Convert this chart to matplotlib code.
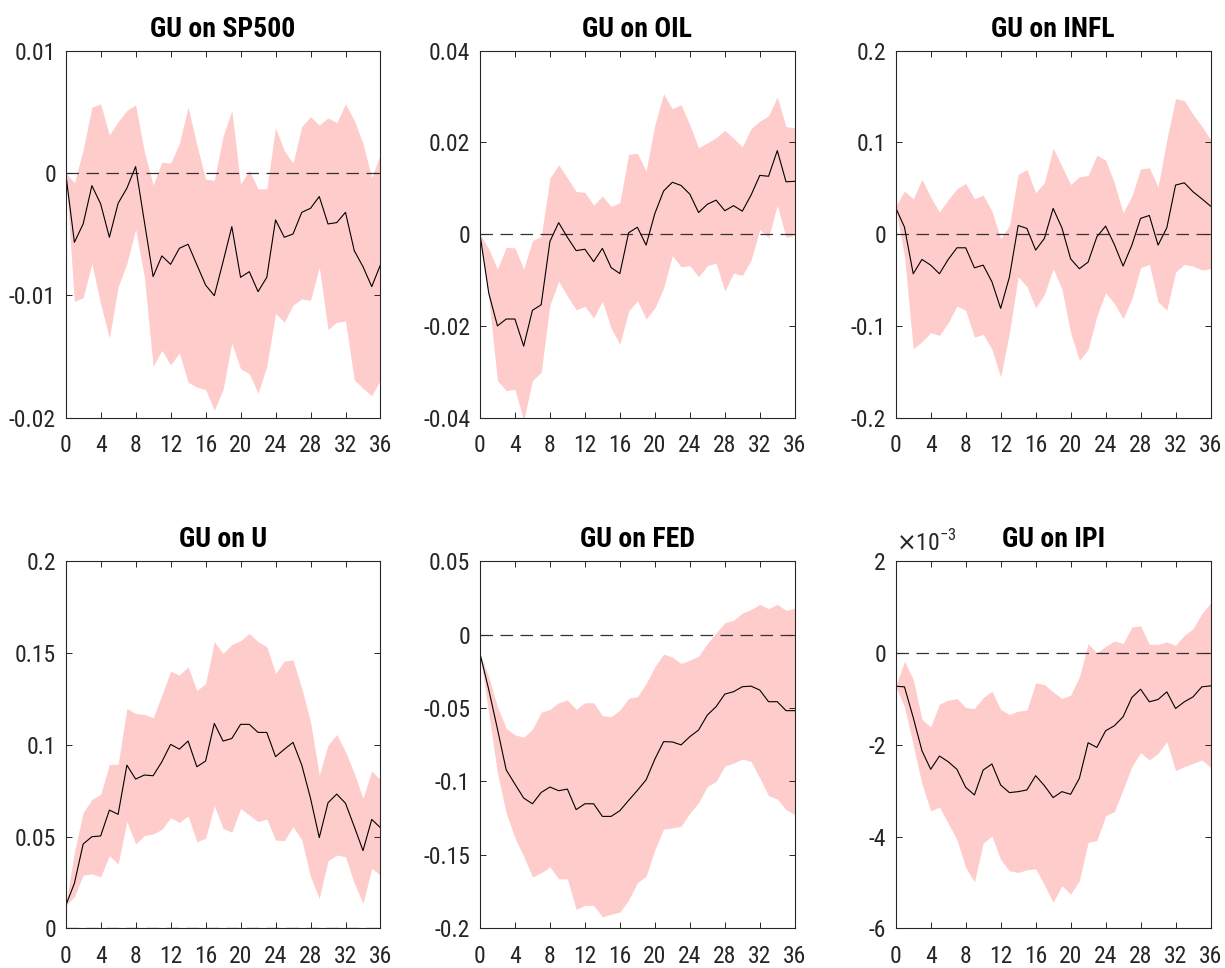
import numpy as np
import matplotlib
matplotlib.use("Agg")
import matplotlib.pyplot as plt
from matplotlib import font_manager

# horizon (months)
horizon = np.arange(37)
xticks = np.arange(0, 37, 4)

titles = ["GU on SP500", "GU on OIL", "GU on INFL", "GU on U", "GU on FED", "GU on IPI"]

# ---- SP500 ----
sp500_med = [0, -0.00567, -0.00417, -0.00104, -0.00253, -0.00526, -0.00248, -0.00125, 0.00052,
             -0.00398, -0.00847, -0.00678, -0.00747, -0.00616, -0.00583, -0.0075, -0.00916,
             -0.01003, -0.00725, -0.00439, -0.00853, -0.00807, -0.0097, -0.00853, -0.00384,
             -0.00526, -0.00499, -0.00322, -0.00289, -0.00193, -0.00417, -0.00406, -0.00322,
             -0.00635, -0.00766, -0.00929, -0.0075]
sp500_hi = [0, -0.0008, 0.0019, 0.00537, 0.00564, 0.0031, 0.0042, 0.0051, 0.00556, 0.00174,
            -0.001, 0.00087, 0.0008, 0.0024, 0.00537, 0.0023, -0.0005, -0.0006, 0.003, 0.0051,
            -0.0009, 0.0002, -0.0013, -0.0013, 0.0037, 0.0018, 0.0008, 0.0038, 0.0046, 0.0039,
            0.0045, 0.0041, 0.00564, 0.0043, 0.0024, -0.0004, 0.0016]
sp500_lo = [0, -0.0105, -0.0102, -0.0074, -0.0107, -0.0135, -0.0093, -0.0074, -0.0046, -0.0085,
            -0.0158, -0.0145, -0.0157, -0.0147, -0.0171, -0.0175, -0.0177, -0.0194, -0.0177,
            -0.0139, -0.016, -0.0164, -0.018, -0.0158, -0.0115, -0.0122, -0.0108, -0.0103,
            -0.0104, -0.0077, -0.0128, -0.0122, -0.0121, -0.0169, -0.0176, -0.0182, -0.0169]

# ---- OIL ----
oil_med = [0, -0.0128, -0.02, -0.0185, -0.0185, -0.0244, -0.0166, -0.0154, -0.0016, 0.0025,
           -0.0007, -0.0036, -0.0033, -0.006, -0.0031, -0.0073, -0.0086, 0.0003, 0.0015, -0.0024,
           0.0045, 0.0094, 0.0113, 0.0106, 0.0087, 0.0047, 0.0065, 0.0074, 0.0051, 0.0062, 0.005,
           0.0085, 0.0128, 0.0126, 0.0182, 0.0114, 0.0115]
oil_hi = [0, -0.0032, -0.0076, -0.0029, -0.003, -0.0076, -0.0014, -0.0005, 0.0122, 0.0151, 0.0122,
          0.0093, 0.0091, 0.0063, 0.0083, 0.006, 0.0069, 0.0174, 0.0176, 0.0138, 0.0238, 0.0306,
          0.0273, 0.0282, 0.0238, 0.0188, 0.0199, 0.021, 0.0226, 0.0209, 0.019, 0.023, 0.0246,
          0.0258, 0.0299, 0.0234, 0.0232]
oil_lo = [0, -0.0139, -0.0319, -0.0341, -0.0338, -0.0407, -0.0319, -0.0301, -0.0154, -0.0103,
          -0.0135, -0.0165, -0.0157, -0.0183, -0.0146, -0.0205, -0.024, -0.0168, -0.0145, -0.0185,
          -0.0161, -0.0117, -0.0047, -0.0071, -0.0069, -0.0093, -0.0069, -0.0063, -0.0124, -0.0085,
          -0.009, -0.0057, 0.001, -0.0008, 0.0063, -0.0007, -0.0003]

# ---- INFL ----
infl_med = [0.0287, 0.0076, -0.0432, -0.0276, -0.0338, -0.0432, -0.0276, -0.0149, -0.0149, -0.0367,
            -0.0338, -0.0519, -0.0809, -0.0468, 0.0094, 0.0062, -0.0174, -0.0047, 0.028, 0.0069,
            -0.0269, -0.0377, -0.0305, -0.0029, 0.0087, -0.0113, -0.0348, -0.012, 0.0171, 0.0203,
            -0.012, 0.0069, 0.0534, 0.0559, 0.0461, 0.0385, 0.0305]
infl_hi = [0.0305, 0.0468, 0.0385, 0.0595, 0.0403, 0.024, 0.0377, 0.0494, 0.0552, 0.0385, 0.0425,
           0.025, -0.005, 0.0094, 0.065, 0.0704, 0.045, 0.0559, 0.0936, 0.074, 0.0541, 0.0624,
           0.0639, 0.086, 0.0806, 0.0559, 0.0232, 0.0414, 0.0711, 0.0722, 0.0515, 0.1031, 0.1477,
           0.1456, 0.1303, 0.1176, 0.1031]
infl_lo = [0.0287, -0.024, -0.1249, -0.1172, -0.1074, -0.1103, -0.0966, -0.0784, -0.0831, -0.1122,
           -0.1093, -0.1256, -0.1557, -0.1074, -0.0465, -0.0573, -0.0802, -0.0657, -0.0377,
           -0.0595, -0.1074, -0.1376, -0.1256, -0.0893, -0.0639, -0.0755, -0.0922, -0.0704,
           -0.0367, -0.033, -0.074, -0.0828, -0.0414, -0.033, -0.0348, -0.0392, -0.0377]

# ---- U ----
u_med = [0.0123, 0.0245, 0.0459, 0.0499, 0.0503, 0.0644, 0.0621, 0.0889, 0.0813, 0.0835, 0.0831,
         0.0907, 0.1002, 0.0976, 0.102, 0.088, 0.0911, 0.1116, 0.102, 0.1034, 0.1111, 0.1111,
         0.1067, 0.1067, 0.0935, 0.0975, 0.1013, 0.0889, 0.0708, 0.0494, 0.0684, 0.0731, 0.0681,
         0.0554, 0.0423, 0.0593, 0.0548]
u_hi = [0.0123, 0.0417, 0.063, 0.0702, 0.073, 0.0893, 0.0893, 0.1198, 0.117, 0.1165, 0.1147, 0.127,
        0.1401, 0.1379, 0.1425, 0.1294, 0.1334, 0.1561, 0.1497, 0.1546, 0.1566, 0.1606, 0.1561,
        0.1534, 0.1388, 0.1456, 0.1461, 0.1307, 0.1125, 0.0835, 0.0998, 0.1056, 0.0962, 0.0844,
        0.0708, 0.0858, 0.0808]
u_lo = [0.0123, 0.0172, 0.029, 0.0296, 0.0281, 0.0396, 0.035, 0.0581, 0.0459, 0.0505, 0.0514,
        0.0539, 0.0603, 0.0577, 0.0612, 0.0472, 0.049, 0.0668, 0.0544, 0.0523, 0.0653, 0.0617,
        0.0581, 0.0595, 0.0481, 0.0477, 0.0554, 0.0481, 0.0281, 0.0163, 0.0367, 0.0399, 0.039,
        0.0245, 0.0136, 0.0327, 0.029]

# ---- FED ----
fed_med = [-0.0129, -0.0373, -0.0643, -0.0921, -0.1018, -0.1113, -0.1152, -0.1075, -0.1038, -0.1063,
           -0.1052, -0.1192, -0.1152, -0.1152, -0.1238, -0.1238, -0.1199, -0.1129, -0.1061, -0.0989,
           -0.0848, -0.0729, -0.0731, -0.0751, -0.0695, -0.065, -0.0548, -0.0491, -0.0405, -0.0389,
           -0.0355, -0.0351, -0.0378, -0.0457, -0.0457, -0.0518, -0.0518]
fed_hi = [-0.0129, -0.0287, -0.0491, -0.0638, -0.0683, -0.0699, -0.0645, -0.0529, -0.0509, -0.0464,
          -0.0446, -0.0509, -0.0464, -0.0464, -0.0552, -0.0559, -0.0514, -0.0434, -0.0423, -0.0333,
          -0.0219, -0.0133, -0.0152, -0.0197, -0.0174, -0.0147, -0.0061, 0.0011, 0.0081, 0.0097,
          0.0147, 0.017, 0.0206, 0.0176, 0.0206, 0.0165, 0.018]
fed_lo = [-0.0129, -0.0536, -0.0943, -0.1215, -0.1385, -0.1509, -0.165, -0.1622, -0.1582, -0.1663,
          -0.1663, -0.1871, -0.1844, -0.1844, -0.1921, -0.1905, -0.1889, -0.1808, -0.169, -0.1645,
          -0.1464, -0.1324, -0.1317, -0.1305, -0.1215, -0.1145, -0.1034, -0.1, -0.0894, -0.0876,
          -0.0848, -0.0864, -0.0977, -0.1097, -0.112, -0.1192, -0.1226]

# ---- IPI (units of 1e-3) ----
ipi_med = [-0.725, -0.739, -1.406, -2.13, -2.536, -2.246, -2.37, -2.536, -2.928, -3.094, -2.551,
           -2.42, -2.877, -3.043, -3.022, -2.986, -2.674, -2.891, -3.152, -3.022, -3.08, -2.732,
           -1.957, -2.058, -1.696, -1.587, -1.391, -0.971, -0.79, -1.065, -1.014, -0.848, -1.21,
           -1.065, -0.957, -0.739, -0.717]
ipi_hi = [-0.725, -0.181, -0.572, -1.449, -1.609, -1.116, -1.029, -0.993, -1.188, -1.21, -0.971,
          -0.833, -1.232, -1.341, -1.268, -1.246, -0.652, -0.688, -0.848, -0.993, -0.92, -0.522,
          0.203, 0.0, 0.145, 0.261, 0.203, 0.565, 0.587, 0.188, 0.188, 0.239, 0.167, 0.384, 0.529,
          0.855, 1.087]
ipi_lo = [-0.725, -1.174, -2.007, -2.855, -3.442, -3.362, -3.71, -4.072, -4.674, -4.99, -4.145,
          -3.986, -4.507, -4.746, -4.783, -4.725, -4.703, -5.051, -5.435, -5.072, -5.254, -4.964,
          -4.13, -4.087, -3.551, -3.457, -2.971, -2.478, -2.174, -2.333, -2.188, -1.935, -2.565,
          -2.478, -2.406, -2.333, -2.493]

# y ticks and labels per panel
yticks = [
    [-0.02, -0.01, 0, 0.01],
    [-0.04, -0.02, 0, 0.02, 0.04],
    [-0.2, -0.1, 0, 0.1, 0.2],
    [0, 0.05, 0.1, 0.15, 0.2],
    [-0.2, -0.15, -0.1, -0.05, 0, 0.05],
    [-6, -4, -2, 0, 2],
]
ytick_labels = [
    ["-0.02", "-0.01", "0", "0.01"],
    ["-0.04", "-0.02", "0", "0.02", "0.04"],
    ["-0.2", "-0.1", "0", "0.1", "0.2"],
    ["0", "0.05", "0.1", "0.15", "0.2"],
    ["-0.2", "-0.15", "-0.1", "-0.05", "0", "0.05"],
    ["-6", "-4", "-2", "0", "2"],
]

medians = [sp500_med, oil_med, infl_med, u_med, fed_med, ipi_med]
uppers = [sp500_hi, oil_hi, infl_hi, u_hi, fed_hi, ipi_hi]
lowers = [sp500_lo, oil_lo, infl_lo, u_lo, fed_lo, ipi_lo]


def pick_font():
    # prefer a narrow Helvetica-like face, fall back to Liberation Sans
    for name, stretch in [('Liberation Sans Narrow', 'normal'), ('Arial Narrow', 'normal'),
                          ('Roboto Condensed', 'normal'), ('DejaVu Sans Condensed', 'normal'),
                          ('DejaVu Sans', 'condensed')]:
        try:
            path = font_manager.findfont(font_manager.FontProperties(family=name, stretch=stretch),
                                         fallback_to_default=False)
            if 'ondensed' in path or 'arrow' in path:
                return name, stretch
        except Exception:
            pass
    return 'Liberation Sans', 'normal'


fam, stretch = pick_font()
plt.rcParams['font.family'] = [fam, 'Liberation Sans', 'DejaVu Sans']
plt.rcParams['font.stretch'] = stretch

band_color = '#ffcccc'
axis_color = '#262626'

fig = plt.figure(figsize=(12.25, 9.68), dpi=100)

# axes boxes in figure fractions [left, bottom, width, height]
lefts = [0.0536, 0.3918, 0.7312]
bottoms = [0.5685, 0.0410]
w, h = 0.2570, 0.3793


def draw_panel(ax, med, lo, hi, ticks, labels, title):
    ax.fill_between(horizon, lo, hi, color=band_color, linewidth=0)
    ax.plot(horizon, med, color='black', linewidth=0.8)
    ax.axhline(0, color='#333333', linewidth=0.9, linestyle=(0, (10, 6)), zorder=1.5)
    ax.set_xlim(0, 36)
    ax.set_ylim(ticks[0], ticks[-1])
    ax.set_xticks(xticks)
    ax.set_xticklabels([str(t) for t in xticks])
    ax.set_yticks(ticks)
    ax.set_yticklabels(labels)
    ax.tick_params(direction='in', length=4, width=0.7, colors=axis_color,
                   labelsize=17, top=True, right=True)
    ax.tick_params(axis='x', pad=12)
    ax.tick_params(axis='y', pad=7)
    for sp in ax.spines.values():
        sp.set_color(axis_color)
        sp.set_linewidth(0.8)
    ax.set_title(title, fontsize=20, fontweight='bold', pad=10)


for i in range(6):
    row, col = divmod(i, 3)
    ax = fig.add_axes([lefts[col], bottoms[row], w, h])
    draw_panel(ax, medians[i], lowers[i], uppers[i], yticks[i], ytick_labels[i], titles[i])
    if i == 5:
        ax.text(0.0, 1.015, r'$\times$10$^{\mathregular{-3}}$', transform=ax.transAxes,
                ha='left', va='bottom', fontsize=17, color=axis_color)

fig.savefig('out.png', dpi=100)
